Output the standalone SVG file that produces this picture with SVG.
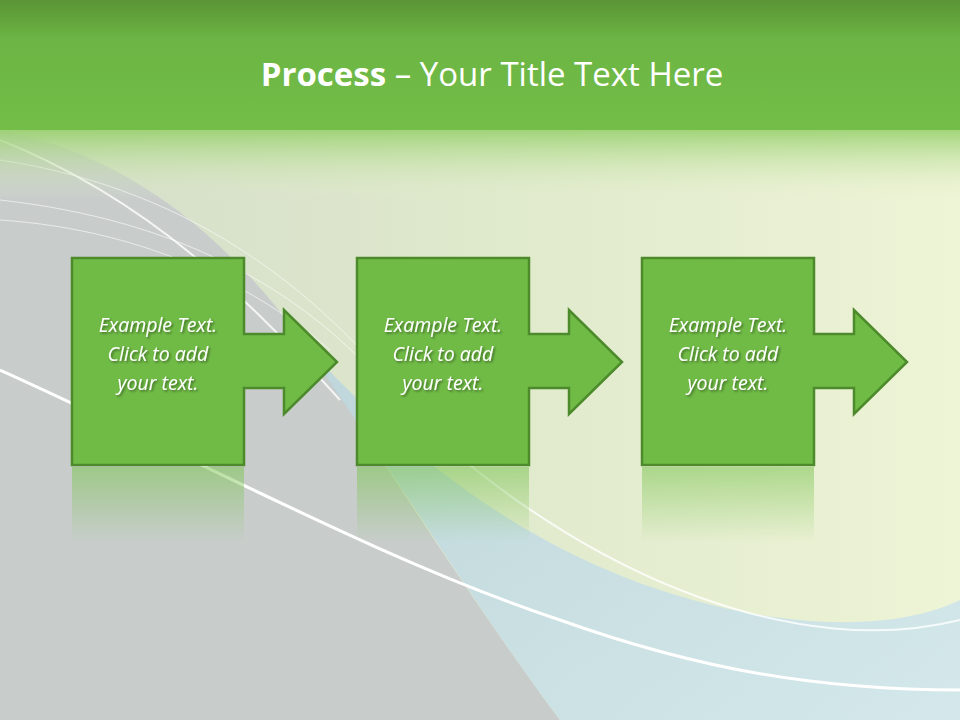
<svg xmlns="http://www.w3.org/2000/svg" width="960" height="720" viewBox="0 0 960 720">
<defs>
<linearGradient id="hdr" x1="0" y1="0" x2="0" y2="1"><stop offset="0" stop-color="#5a9435"/><stop offset="0.3" stop-color="#6cb544"/><stop offset="1" stop-color="#73bd48"/></linearGradient>
<linearGradient id="fade" x1="0" y1="0" x2="0" y2="1"><stop offset="0" stop-color="#8ccc5e"/><stop offset="1" stop-color="#e6f0cf" stop-opacity="0"/></linearGradient>
<linearGradient id="bg" x1="0" y1="0" x2="1" y2="0"><stop offset="0" stop-color="#d3dbc9"/><stop offset="0.5" stop-color="#dfe9cc"/><stop offset="1" stop-color="#eef4d6"/></linearGradient>
<linearGradient id="blue" x1="0" y1="0" x2="1" y2="1"><stop offset="0" stop-color="#b9d3dd"/><stop offset="1" stop-color="#cfe6ee"/></linearGradient>
<linearGradient id="refl" x1="0" y1="0" x2="0" y2="1"><stop offset="0" stop-color="#7cc452" stop-opacity="0.55"/><stop offset="1" stop-color="#7cc452" stop-opacity="0"/></linearGradient>
<filter id="sd" x="-10%" y="-30%" width="120%" height="160%"><feDropShadow dx="1.5" dy="1.5" stdDeviation="1" flood-color="#000" flood-opacity="0.45"/></filter>
<style>
.s{fill:#70bb46;stroke:#4c8a2b;stroke-width:2.5}
.t{font-family:"Open Sans","Liberation Sans",sans-serif;font-style:italic;font-size:19.5px;fill:#fff;text-anchor:middle;filter:url(#sd)}
</style>
<path id="sh" d="M0 0H172V76H212V52L265 104L212 156V130H172V207H0Z"/>
</defs>
<rect width="960" height="720" fill="url(#bg)"/>
<path d="M0 130 C150 160 250 260 330 380 C420 520 500 640 560 720 H0Z" fill="#c8cdcb"/>
<path d="M300 340 C420 470 560 580 760 615 C850 630 920 620 960 600 V720 H560 C470 600 400 480 300 340Z" fill="url(#blue)" opacity="0.85"/>
<path d="M0 370 C200 460 380 560 560 620 C700 670 820 690 960 690" fill="none" stroke="#fff" stroke-width="3"/>
<path d="M0 140 C150 200 250 300 340 400" fill="none" stroke="#fff" stroke-width="2" opacity="0.8"/>
<path d="M440 440 C600 580 800 660 960 620" fill="none" stroke="#fff" stroke-width="2" opacity="0.8"/>
<path d="M0 160 C200 190 330 300 420 420 M0 200 C180 220 300 290 380 380 M0 220 C150 230 260 290 330 350" fill="none" stroke="#fff" stroke-width="1" opacity="0.6"/>
<rect y="120" width="960" height="80" fill="url(#fade)"/>
<rect width="960" height="130" fill="url(#hdr)"/>
<text x="492" y="86" text-anchor="middle" font-family="'Open Sans','Liberation Sans',sans-serif" font-size="33" fill="#fff"><tspan font-weight="bold">Process</tspan> – Your Title Text Here</text>
<g id="node1" transform="translate(72,258)">
<rect y="209" width="172" height="75" fill="url(#refl)"/>
<use href="#sh" class="s"/>
<text class="t" x="86" y="74">Example Text.</text><text class="t" x="86" y="103">Click  to add</text><text class="t" x="86" y="132">your text.</text>
</g>
<g id="node2" transform="translate(357,258)">
<rect y="209" width="172" height="75" fill="url(#refl)"/>
<use href="#sh" class="s"/>
<text class="t" x="86" y="74">Example Text.</text><text class="t" x="86" y="103">Click  to add</text><text class="t" x="86" y="132">your text.</text>
</g>
<g id="node3" transform="translate(642,258)">
<rect y="209" width="172" height="75" fill="url(#refl)"/>
<use href="#sh" class="s"/>
<text class="t" x="86" y="74">Example Text.</text><text class="t" x="86" y="103">Click  to add</text><text class="t" x="86" y="132">your text.</text>
</g>
<g id="connectors"/>
</svg>
